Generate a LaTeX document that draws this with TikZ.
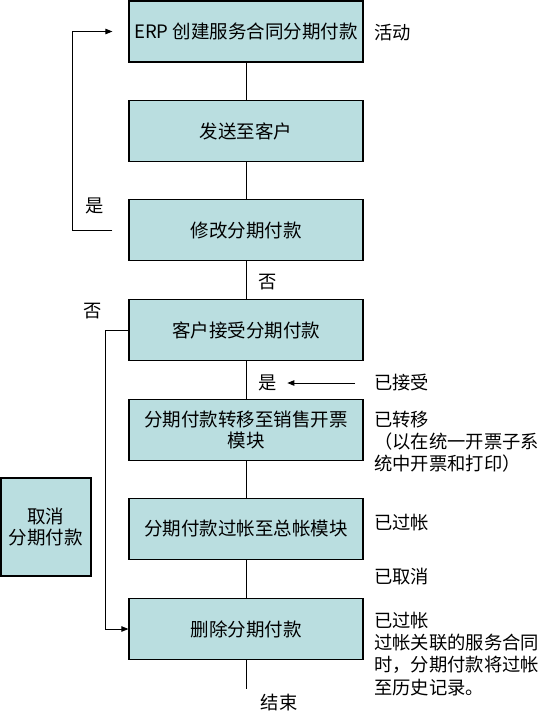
\documentclass[tikz,border=0pt]{standalone}
\usepackage{fontspec}
\usepackage{xcolor}
\usepackage{tikz}
\usetikzlibrary{arrows.meta,positioning}
\newfontfamily\cjk{Noto Sans CJK SC}
\definecolor{boxcyan}{HTML}{BADEE0}
\tikzset{
  stepbox/.style={draw, line width=1.2pt, fill=boxcyan, align=center, inner sep=0pt,
    minimum width=234pt, minimum height=61pt, font=\cjk\fontsize{18.5}{21.5}\selectfont},
  note/.style={inner sep=0pt, align=left, font=\cjk\fontsize{18.3}{22.2}\selectfont},
  link/.style={line width=0.9pt},
  arrow/.style={link, -{Triangle[length=7pt,width=5.5pt]}}
}

\begin{document}
\begin{tikzpicture}[x=1pt,y=-1pt]
  \useasboundingbox (0,0) rectangle (541,713);

  \node[stepbox] (create) at (246,31.5) {ERP 创建服务合同分期付款};
  \node[stepbox] (send) at (246,131) {发送至客户};
  \node[stepbox] (modify) at (246,230) {修改分期付款};
  \node[stepbox] (accept) at (246,330) {客户接受分期付款};
  \node[stepbox] (transfer) at (246,430) {分期付款转移至销售开票\\模块};
  \node[stepbox] (post) at (246,529) {分期付款过帐至总帐模块};
  \node[stepbox] (delete) at (246,629) {删除分期付款};
  \node[stepbox, minimum width=90pt, minimum height=98pt] (cancel) at (46,527) {取消\\分期付款};

  % status notes on the right
  \node[note, anchor=west] (active) at (374,33) {活动};
  \node[note, anchor=west] (accepted) at (374,383) {已接受};
  \node[note, anchor=north west] (moved) at (374,411) {已转移\\（以在统一开票子系\\统中开票和打印）};
  \node[note, anchor=west] (posted) at (374,523) {已过帐};
  \node[note, anchor=west] (cancelled) at (374,577) {已取消};
  \node[note, anchor=north west] (history) at (374,612) {已过帐\\过帐关联的服务合同\\时，分期付款将过帐\\至历史记录。};

  % branch labels
  \node[note] (yesloop) at (95,206) {是};
  \node[note] (nomid) at (268,282) {否};
  \node[note] (noloop) at (93,311) {否};
  \node[note] (yesmid) at (268,383) {是};
  \node[note] (finish) at (279,703) {结束};
  \coordinate (endpt) at (246,689);

  \draw[link] (create) -- (send);
  \draw[link] (send) -- (modify);
  \draw[link] (modify) -- (accept);
  \draw[link] (accept) -- (transfer);
  \draw[link] (transfer) -- (post);
  \draw[link] (post) -- (delete);
  \draw[link] (delete) -- (endpt);

  \draw[arrow] ([xshift=-16pt]modify.west) -- ++(-40,0) |- ([xshift=-16pt]create.west);
  \draw[arrow] (accept.west) -- ++(-23,0) |- (delete.west);
  \draw[arrow] ([xshift=-19pt]accepted.west) -- ([xshift=10pt]yesmid.east);
\end{tikzpicture}
\end{document}
